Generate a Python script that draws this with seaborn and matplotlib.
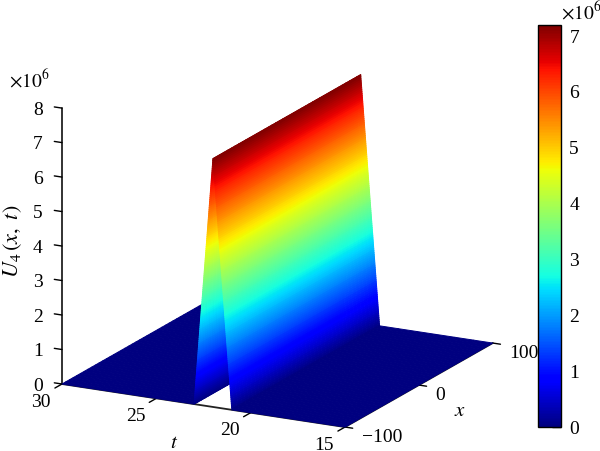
import numpy as np
import matplotlib
matplotlib.use("Agg")
import matplotlib.pyplot as plt
from mpl_toolkits.mplot3d import proj3d
import seaborn as sns

# Data
x_nodes = [-100, 100]
t_nodes = [15, 16, 17, 18, 19, 20, 21, 22, 23, 24, 25, 26, 27, 28, 29, 30]
u_nodes = [0, 0, 0, 0, 0, 0, 0, 7.2e6, 0, 0, 0, 0, 0, 0, 0, 0]
x_ticks = [-100, 0, 100]
t_ticks = [15, 20, 25, 30]
z_ticks = [0, 1, 2, 3, 4, 5, 6, 7, 8]
cbar_ticks = [0, 1, 2, 3, 4, 5, 6, 7]
scale = 1e6

sns.set_theme(style="white")
plt.rcParams["font.family"] = ["Liberation Serif", "DejaVu Serif"]
plt.rcParams["mathtext.fontset"] = "stix"
FS = 14
W, H = 600, 451
fig = plt.figure(figsize=(W / 100, H / 100), dpi=100, facecolor="white")
cmap = plt.get_cmap("jet")

# Smooth shading: the surface is subdivided so flat facets read as a gradient
t_mesh = np.unique(np.concatenate([t_nodes, np.linspace(t_nodes[6], t_nodes[8], 241)]))
x_mesh = np.linspace(x_nodes[0], x_nodes[-1], 41)
u_mesh = np.interp(t_mesh, t_nodes, u_nodes)
X, T = np.meshgrid(x_mesh, t_mesh)
Z = np.tile(u_mesh[:, None], (1, len(x_mesh)))

ax = fig.add_axes([0.1, 0.1, 0.6, 0.6 * W / H], projection="3d", proj_type="ortho")
ax.patch.set_alpha(0)
surf = ax.plot_surface(X, T, Z, cmap=cmap, vmin=0, vmax=max(u_nodes),
                       rstride=1, cstride=1, shade=False,
                       linewidth=0.7, antialiased=True)
ax.set_xlim(x_nodes[0], x_nodes[-1], view_margin=0)
ax.set_ylim(t_nodes[0], t_nodes[-1], view_margin=0)
ax.set_zlim(0, 8e6, view_margin=0)
ax.view_init(elev=17.1, azim=-152.65)
ax.set_box_aspect((322, 319, 289))
surf.set_edgecolor("face")

ax.set_xticks(x_ticks)
ax.set_xticklabels(["\u2212100", "0", "100"], fontsize=FS, ha="left", va="bottom")
ax.set_yticks(t_ticks)
ax.set_yticklabels([str(v) for v in t_ticks], fontsize=FS, ha="right", va="bottom")
ax.set_zticks([v * scale for v in z_ticks])
ax.set_zticklabels([str(v) for v in z_ticks], fontsize=FS, ha="center", va="center")
ax.grid(False)
for axis in (ax.xaxis, ax.yaxis, ax.zaxis):
    axis.set_pane_color((1, 1, 1, 0))
    axis.pane.set_edgecolor("none")
    axis.line.set_color("#222222")
    axis.line.set_linewidth(1.3)
    axis._axinfo["tick"]["linewidth"] = {True: 1.0, False: 1.0}
    axis._axinfo["tick"]["color"] = "black"
ax.xaxis._axinfo["tick"].update(inward_factor=0, outward_factor=-0.34)
ax.yaxis._axinfo["tick"].update(inward_factor=0, outward_factor=-0.6)
ax.zaxis._axinfo["tick"].update(inward_factor=0, outward_factor=0.34)
ax.zaxis._get_tickdir = lambda position: 1
ax.tick_params(axis="x", colors="black", pad=3.5)
ax.tick_params(axis="y", colors="black", pad=6.5)
ax.tick_params(axis="z", colors="black", pad=3)

# Fit the box to the pixel frame of the figure
def locate(xv, tv, zv=0):
    a, b, _ = proj3d.proj_transform(xv, tv, zv, ax.get_proj())
    return ax.transData.transform((a, b))

fig.canvas.draw()
p0 = locate(x_nodes[0], t_nodes[-1])
p1 = locate(x_nodes[0], t_nodes[0])
f = 283.0 / (p1[0] - p0[0])
pos = ax.get_position()
ax.set_position([pos.x0, pos.y0, pos.width * f, pos.height * f])
fig.canvas.draw()
p0 = locate(x_nodes[0], t_nodes[-1])
pos = ax.get_position()
ax.set_position([pos.x0 + (62 - p0[0]) / W, pos.y0 + ((H - 384) - p0[1]) / H, pos.width, pos.height])

# Colour bar
cax = fig.add_axes([538 / W, (H - 427) / H, 23 / W, 402 / H])
cb = fig.colorbar(surf, cax=cax)
cb.set_ticks([v * scale for v in cbar_ticks])
cb.set_ticklabels([str(v) for v in cbar_ticks], fontsize=FS)
cax.tick_params(direction="in", length=6.5, width=1.0, color="black", pad=6,
                labelcolor="black", right=True, left=False)
cb.outline.set_edgecolor("black")
cb.outline.set_linewidth(1.0)

def px(text, x, y, **kw):
    fig.text(x / W, 1 - y / H, text, ha="center", va="center", color="black", **kw)

px(r"$\times 10^{6}$", 29, 80, fontsize=FS)
px(r"$\times 10^{6}$", 581, 12, fontsize=FS)
px(r"$U_4\,(x,\ t)$", 13, 241, fontsize=16, rotation=90)
px(r"$t$", 174, 443, fontsize=15)
px(r"$x$", 460, 412, fontsize=15)

fig.savefig("out.png", dpi=100)
